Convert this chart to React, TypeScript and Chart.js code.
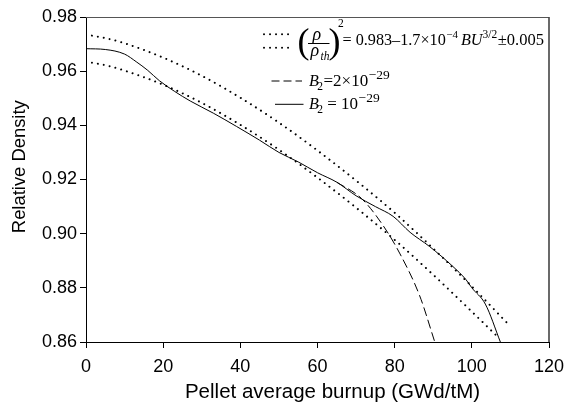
import React, { useEffect, useRef } from "react";
import { Chart, registerables } from "chart.js";

Chart.register(...registerables);

// Upper / lower bounds of the empirical fit (dotted)
const upperX = [0, 5, 10, 20, 30, 40, 50, 60, 70, 80, 90, 100, 109.5];
const upperY = [0.9735, 0.9722, 0.9703, 0.965, 0.9583, 0.9502, 0.941, 0.9307, 0.9196, 0.9077, 0.8945, 0.8805, 0.8665];
const lowerX = [0, 5, 10, 20, 30, 40, 50, 60, 70, 80, 90, 100, 107];
const lowerY = [0.9635, 0.9622, 0.9602, 0.955, 0.9483, 0.9402, 0.931, 0.9207, 0.9096, 0.8977, 0.8848, 0.8712, 0.8615];

// B2 = 1e-29 (solid)
const solidX = [0, 5, 10, 13, 16, 19, 23, 27, 33, 39, 45, 50, 55, 60, 65, 70, 75, 79.6, 84, 89, 95, 98.5, 100, 103.5, 107.4];
const solidY = [0.9683, 0.968, 0.9663, 0.9635, 0.9603, 0.9565, 0.9525, 0.949, 0.9445, 0.9396, 0.9345, 0.93, 0.9265, 0.9225, 0.919, 0.914, 0.91, 0.9064, 0.9005, 0.8953, 0.888, 0.883, 0.88, 0.874, 0.86];

// B2 = 2e-29 (dashed)
const dashX = [65, 71.4, 77, 81.4, 86.5, 90.4];
const dashY = [0.919, 0.913, 0.903, 0.8925, 0.877, 0.86];

const xTicks = [0, 20, 40, 60, 80, 100, 120];
const yTicks = [0.86, 0.88, 0.9, 0.92, 0.94, 0.96, 0.98];

const xTitle = "Pellet average burnup (GWd/tM)";
const yTitle = "Relative Density";

const SANS = '"Liberation Sans", Arial, Helvetica, sans-serif';
const SERIF = '"Liberation Serif", "Times New Roman", serif';

const pts = (xs: number[], ys: number[]) => xs.map((x, i) => ({ x, y: ys[i] }));

function txt(ctx: CanvasRenderingContext2D, s: string, x: number, y: number, size: number, italic = false) {
  ctx.font = `${italic ? "italic " : ""}${size}px ${SERIF}`;
  ctx.fillText(s, x, y);
  return x + ctx.measureText(s).width;
}

const decorPlugin = {
  id: "decor",
  afterDraw(chart: any) {
    const ctx: CanvasRenderingContext2D = chart.ctx;
    const { left, right, top, bottom } = chart.chartArea;
    ctx.save();
    // frame top & right
    ctx.strokeStyle = "#555";
    ctx.lineWidth = 1;
    ctx.beginPath();
    ctx.moveTo(left, top + 0.5);
    ctx.lineTo(right, top + 0.5);
    ctx.stroke();
    ctx.strokeStyle = "#444";
    ctx.lineWidth = 1.6;
    ctx.beginPath();
    ctx.moveTo(right, top);
    ctx.lineTo(right, bottom);
    ctx.stroke();

    // axis titles
    ctx.fillStyle = "#000";
    ctx.textBaseline = "alphabetic";
    ctx.textAlign = "center";
    ctx.font = `20.5px ${SANS}`;
    ctx.fillText(xTitle, 332.5, 398);
    ctx.save();
    ctx.translate(25, 166.7);
    ctx.rotate(-Math.PI / 2);
    ctx.font = `18.4px ${SANS}`;
    ctx.fillText(yTitle, 0, 0);
    ctx.restore();

    // legend: dotted samples
    ctx.strokeStyle = "#000";
    ctx.lineWidth = 2;
    ctx.lineCap = "round";
    ctx.setLineDash([0.01, 6]);
    [34.3, 47.7].forEach((yy) => {
      ctx.beginPath();
      ctx.moveTo(264, yy);
      ctx.lineTo(294, yy);
      ctx.stroke();
    });
    // dashed sample
    ctx.lineWidth = 1;
    ctx.lineCap = "butt";
    ctx.setLineDash([8, 4]);
    ctx.beginPath();
    ctx.moveTo(271.5, 81);
    ctx.lineTo(302, 81);
    ctx.stroke();
    // solid sample
    ctx.setLineDash([]);
    ctx.beginPath();
    ctx.moveTo(275, 104.3);
    ctx.lineTo(303.5, 104.3);
    ctx.stroke();

    // formula
    ctx.textAlign = "left";
    ctx.fillStyle = "#000";
    ctx.font = `36px ${SERIF}`;
    ctx.fillText("(", 297.5, 53);
    ctx.fillText(")", 328.5, 53);
    txt(ctx, "\u03c1", 312.5, 40, 18, true);
    ctx.lineWidth = 1;
    ctx.beginPath();
    ctx.moveTo(308, 43.5);
    ctx.lineTo(329.5, 43.5);
    ctx.stroke();
    txt(ctx, "\u03c1", 310.5, 55.5, 18, true);
    txt(ctx, "th", 320.5, 59.5, 11.5, true);
    txt(ctx, "2", 338, 27, 11.5);
    let x = 342.5;
    x = txt(ctx, "= 0.983\u20131.7\u00d710", x, 45, 16.2);
    x = txt(ctx, "\u22124", x + 0.5, 38, 11);
    x = txt(ctx, "BU", x + 3, 45, 16.2, true);
    x = txt(ctx, "3/2", x, 37.5, 11.5);
    txt(ctx, "\u00b10.005", x + 0.5, 45, 16.5);

    // B2 labels
    let bx = txt(ctx, "B", 309, 85.5, 16, true);
    bx = txt(ctx, "2", bx - 1.5, 89.5, 11.5);
    bx = txt(ctx, "=2\u00d710", bx + 0.5, 85.5, 17);
    txt(ctx, "\u221229", bx + 0.5, 78.5, 13.5);

    bx = txt(ctx, "B", 309, 108.5, 16, true);
    bx = txt(ctx, "2", bx - 1.5, 112.5, 11.5);
    bx = txt(ctx, " = 10", bx, 108.5, 17);
    txt(ctx, "\u221229", bx + 0.5, 101.5, 13.5);

    ctx.restore();
  },
};

export default function App() {
  const ref = useRef<HTMLCanvasElement | null>(null);
  useEffect(() => {
    if (!ref.current) return;
    const dotted = {
      borderColor: "#000",
      borderWidth: 2,
      borderDash: [0.01, 6],
      borderCapStyle: "round" as const,
      pointRadius: 0,
      fill: false,
      cubicInterpolationMode: "monotone" as const,
    };
    const chart = new Chart(ref.current, {
      type: "line",
      data: {
        datasets: [
          { label: "upper", data: pts(upperX, upperY), ...dotted },
          { label: "lower", data: pts(lowerX, lowerY), ...dotted },
          {
            label: "B2=2e-29",
            data: pts(dashX, dashY),
            borderColor: "#000",
            borderWidth: 1,
            borderDash: [9, 4],
            pointRadius: 0,
            fill: false,
            cubicInterpolationMode: "monotone",
          },
          {
            label: "B2=1e-29",
            data: pts(solidX, solidY),
            borderColor: "#000",
            borderWidth: 1,
            pointRadius: 0,
            fill: false,
            cubicInterpolationMode: "monotone",
          },
        ],
      },
      options: {
        animation: false,
        responsive: false,
        maintainAspectRatio: false,
        layout: { padding: { top: 17, right: 19, left: 0, bottom: 0 } },
        plugins: { legend: { display: false }, tooltip: { enabled: false } },
        scales: {
          x: {
            type: "linear",
            min: 0,
            max: 120,
            afterBuildTicks: (s: any) => {
              s.ticks = xTicks.map((v) => ({ value: v }));
            },
            ticks: {
              color: "#000",
              font: { family: SANS, size: 18 },
              padding: 8,
              maxRotation: 0,
              callback: (v: any) => String(v),
            },
            grid: { drawOnChartArea: false, drawTicks: true, tickLength: 6, tickColor: "#000" },
            border: { color: "#000", width: 1 },
            afterFit: (s: any) => {
              s.height = 62;
              s.paddingLeft = 0;
              s.paddingRight = 0;
            },
          },
          y: {
            type: "linear",
            min: 0.86,
            max: 0.98,
            afterBuildTicks: (s: any) => {
              s.ticks = yTicks.map((v) => ({ value: v }));
            },
            ticks: {
              color: "#000",
              font: { family: SANS, size: 18 },
              padding: 3,
              callback: (v: any) => Number(v).toFixed(2),
            },
            grid: { drawOnChartArea: false, drawTicks: true, tickLength: 6, tickColor: "#000" },
            border: { color: "#000", width: 1 },
            afterFit: (s: any) => {
              s.width = 86;
              s.paddingTop = 0;
              s.paddingBottom = 0;
            },
          },
        },
      },
      plugins: [decorPlugin],
    });
    return () => chart.destroy();
  }, []);
  return (
    <div style={{ position: "absolute", left: 0, top: 0, width: 568, height: 404, background: "#fff" }}>
      <canvas ref={ref} width={568} height={404} style={{ display: "block", width: 568, height: 404 }} />
    </div>
  );
}
